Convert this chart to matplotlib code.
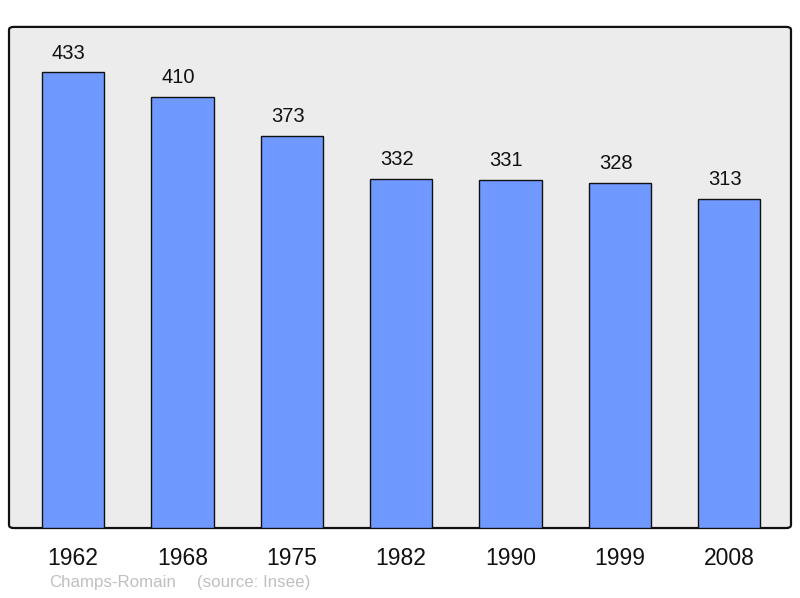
import matplotlib
matplotlib.use('Agg')
from matplotlib import pyplot as plt
from matplotlib.patches import FancyBboxPatch

years = ['1962', '1968', '1975', '1982', '1990', '1999', '2008']
population = [433, 410, 373, 332, 331, 328, 313]
town = 'Champs-Romain'
source = '(source: Insee)'

plt.rcParams['font.family'] = ['Liberation Sans', 'DejaVu Sans']

fig = plt.figure(figsize=(8, 5.98), dpi=100)
ax = fig.add_axes([0.01125, 0.117, 0.9775, 0.838])
ax.set_facecolor('none')

# background frame with rounded corners
frame = FancyBboxPatch((0, 0), 1, 1, boxstyle='round,pad=0,rounding_size=0.006',
                       transform=ax.transAxes, facecolor='#ececec', edgecolor='#111111',
                       linewidth=1.6, zorder=0, clip_on=False)
ax.add_patch(frame)

x = range(len(years))
ax.bar(x, population, width=0.57, color='#7099ff', edgecolor='#111111', linewidth=1.0, zorder=2)
for i, v in enumerate(population):
    ax.annotate(str(v), (i, v), xytext=(-3, 7), textcoords='offset points',
                ha='center', va='bottom', fontsize=14.5, color='#111111')

ax.set_xlim(-0.585, 6.565)
ax.set_ylim(0, max(population) * 1.1)
for s in ax.spines.values():
    s.set_visible(False)
ax.set_yticks([])
ax.set_xticks(list(x))
ax.set_xticklabels(years, fontsize=16.5, color='#111111')
ax.tick_params(axis='x', length=0, pad=14)

fig.text(0.061, 0.018, town, fontsize=12.2, color='#c0c0c0')
fig.text(0.246, 0.018, source, fontsize=12.2, color='#c0c0c0')

fig.savefig('out.png', dpi=100)
